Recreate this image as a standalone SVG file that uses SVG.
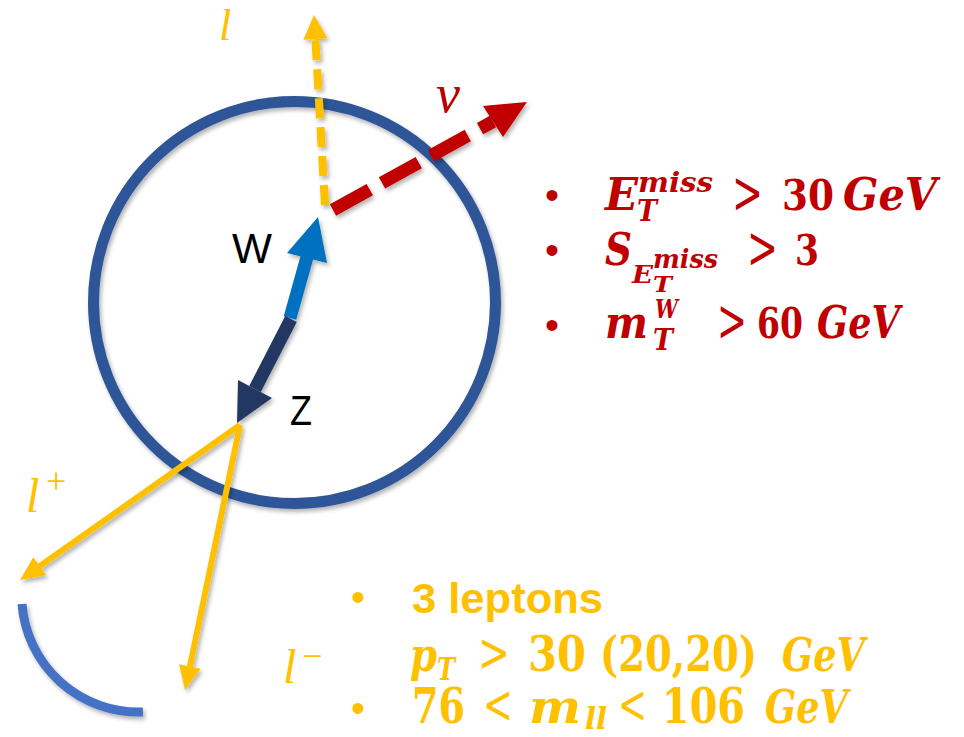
<svg xmlns="http://www.w3.org/2000/svg" width="964" height="737" viewBox="0 0 964 737">
<defs>
<filter id="sh" x="-20%" y="-20%" width="140%" height="140%">
<feDropShadow dx="2" dy="3" stdDeviation="2" flood-color="#000" flood-opacity="0.3"/>
</filter>
<style>
.m text{font-family:"DejaVu Serif","Liberation Serif",serif;font-weight:700}
.m .i{font-style:italic}
.m .n{font-weight:normal}
.red{fill:#C00000}
.yel{fill:#FFC000}
.lab{font-family:"Liberation Serif","DejaVu Serif",serif;font-style:italic}
.sans{font-family:"Liberation Sans",Arial,sans-serif}
.m .blt{font-family:"Liberation Sans",Arial,sans-serif;font-size:40px;text-anchor:middle;font-weight:normal}
</style>
</defs>
<rect width="964" height="737" fill="#fff"/>

<g id="detector" filter="url(#sh)">
<circle cx="294.5" cy="302.5" r="201" fill="none" stroke="#2F5597" stroke-width="11"/>
</g>
<g id="arc" filter="url(#sh)">
<path d="M22 604 A117 117 0 0 0 143 712" fill="none" stroke="#4472C4" stroke-width="9"/>
</g>

<g id="connectors" filter="url(#sh)">
<g id="lepton-w">
<line x1="325" y1="205" x2="315.4" y2="39" stroke="#FFC000" stroke-width="8" stroke-dasharray="20 9"/>
<polygon points="314,15 303.4,39.7 327.4,38.3" fill="#FFC000"/>
</g>
<g id="neutrino">
<line x1="333" y1="210" x2="493" y2="121.5" stroke="#C00000" stroke-width="13" stroke-dasharray="42 14"/>
<polygon points="527,102 483,106 503,137" fill="#C00000"/>
</g>
<g id="w-arrow">
<line x1="290" y1="318" x2="307" y2="257" stroke="#0070C0" stroke-width="13"/>
<polygon points="318,217 287,253 327,263" fill="#0070C0"/>
</g>
<g id="z-arrow">
<line x1="291" y1="319" x2="255" y2="389" stroke="#203864" stroke-width="13"/>
<polygon points="237,423 238,380 272,398" fill="#203864"/>
</g>
<g id="l-plus">
<line x1="240" y1="425" x2="39.6" y2="566.2" stroke="#FFC000" stroke-width="6"/>
<polygon points="20,580 33.3,557.2 46,575.2" fill="#FFC000"/>
</g>
<g id="l-minus">
<line x1="240" y1="425" x2="189.9" y2="666.5" stroke="#FFC000" stroke-width="6"/>
<polygon points="185,690 179.1,664.3 200.7,668.7" fill="#FFC000"/>
</g>
</g>

<g id="labels">
<text class="lab yel" x="219" y="40" font-size="44">l</text>
<text class="lab red" x="436" y="112" font-size="54">ν</text>
<text class="lab yel" x="26" y="512" font-size="48">l</text>
<text class="yel" x="46" y="493" font-size="36" font-family="Liberation Serif,serif">+</text>
<text class="lab yel" x="283" y="683" font-size="48">l</text>
<text class="yel" x="302" y="668" font-size="36" font-family="Liberation Serif,serif">−</text>
<text class="sans" x="232" y="263" font-size="42" textLength="40" lengthAdjust="spacingAndGlyphs">W</text>
<text class="sans" x="290" y="425" font-size="42" textLength="22" lengthAdjust="spacingAndGlyphs">Z</text>
</g>

<g id="w-cuts" class="m red">
<text class="blt" x="552" y="209">•</text>
<text class="blt" x="552" y="264">•</text>
<text class="blt" x="552" y="339">•</text>
<text class="i" x="605" y="210" font-size="44" textLength="33" lengthAdjust="spacingAndGlyphs">E</text>
<text class="i" x="638" y="192" font-size="28" textLength="75" lengthAdjust="spacingAndGlyphs">miss</text>
<text class="i" x="637" y="221" font-size="30" textLength="20" lengthAdjust="spacingAndGlyphs">T</text>
<text class="n" x="732" y="213" font-size="60" textLength="31" lengthAdjust="spacingAndGlyphs">&gt;</text>
<text x="782" y="210" font-size="43" textLength="52" lengthAdjust="spacingAndGlyphs">30</text>
<text class="i" x="843" y="210" font-size="44" textLength="94" lengthAdjust="spacingAndGlyphs">GeV</text>

<text class="i" x="605" y="265" font-size="44" textLength="27" lengthAdjust="spacingAndGlyphs">S</text>
<text class="i" x="632" y="283" font-size="25" textLength="21" lengthAdjust="spacingAndGlyphs">E</text>
<text class="i" x="653" y="268" font-size="26" textLength="65" lengthAdjust="spacingAndGlyphs">miss</text>
<text class="i" x="653" y="292" font-size="23" textLength="19" lengthAdjust="spacingAndGlyphs">T</text>
<text class="n" x="747" y="268" font-size="60" textLength="31" lengthAdjust="spacingAndGlyphs">&gt;</text>
<text x="795" y="265" font-size="43" textLength="24" lengthAdjust="spacingAndGlyphs">3</text>

<text class="i" x="605" y="338" font-size="44" textLength="43" lengthAdjust="spacingAndGlyphs">m</text>
<text class="i" x="655" y="318" font-size="26" textLength="23" lengthAdjust="spacingAndGlyphs">W</text>
<text class="i" x="653" y="350" font-size="30" textLength="20" lengthAdjust="spacingAndGlyphs">T</text>
<text class="n" x="717" y="341" font-size="60" textLength="30" lengthAdjust="spacingAndGlyphs">&gt;</text>
<text x="757" y="338" font-size="43" textLength="46" lengthAdjust="spacingAndGlyphs">60</text>
<text class="i" x="817" y="338" font-size="44" textLength="83" lengthAdjust="spacingAndGlyphs">GeV</text>
</g>

<g id="z-cuts" class="m yel">
<text class="blt" x="358" y="611">•</text>
<text class="blt" x="358" y="722">•</text>
<text class="sans" x="412" y="613" font-size="43" style="font-family:'Liberation Sans',Arial,sans-serif" textLength="191" lengthAdjust="spacingAndGlyphs">3 leptons</text>
<text class="i" x="410" y="671" font-size="47" textLength="27" lengthAdjust="spacingAndGlyphs">p</text>
<text class="i" x="437" y="680" font-size="31" textLength="18" lengthAdjust="spacingAndGlyphs">T</text>
<text class="n" x="478" y="671" font-size="54" textLength="32" lengthAdjust="spacingAndGlyphs">&gt;</text>
<text x="528" y="671" font-size="48" textLength="58" lengthAdjust="spacingAndGlyphs">30</text>
<text x="600" y="671" font-size="48" textLength="157" lengthAdjust="spacingAndGlyphs">(20,20)</text>
<text class="i" x="782" y="671" font-size="47" textLength="83" lengthAdjust="spacingAndGlyphs">GeV</text>
<text x="412" y="723" font-size="48" textLength="53" lengthAdjust="spacingAndGlyphs">76</text>
<text class="n" x="483" y="723" font-size="54" textLength="30" lengthAdjust="spacingAndGlyphs">&lt;</text>
<text class="i" x="529" y="723" font-size="47" textLength="52" lengthAdjust="spacingAndGlyphs">m</text>
<text class="i" x="585" y="729" font-size="29" textLength="22" lengthAdjust="spacingAndGlyphs">ll</text>
<text class="n" x="618" y="723" font-size="54" textLength="29" lengthAdjust="spacingAndGlyphs">&lt;</text>
<text x="662" y="723" font-size="48" textLength="83" lengthAdjust="spacingAndGlyphs">106</text>
<text class="i" x="765" y="723" font-size="47" textLength="83" lengthAdjust="spacingAndGlyphs">GeV</text>
</g>
</svg>
